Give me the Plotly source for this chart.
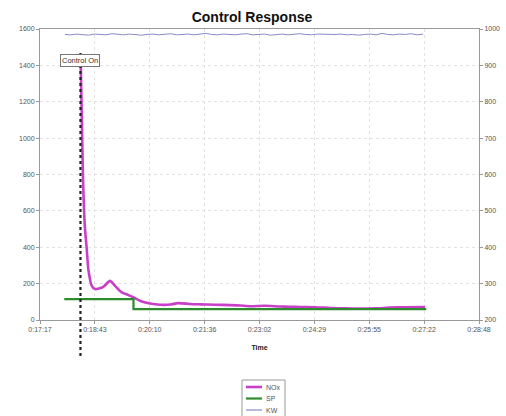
import numpy as np
import plotly.graph_objects as go

# Time in seconds from 0:00:00
nox_t = [1101, 1103, 1104.5, 1106, 1107.7, 1110.4, 1112.9, 1118.3, 1123.5, 1136, 1147, 1155,
         1165.5, 1176, 1184, 1194, 1210, 1226, 1242, 1254, 1273, 1289, 1312, 1336, 1352, 1368,
         1391, 1415, 1430, 1446, 1470, 1494, 1517, 1541, 1565, 1588, 1612, 1643]
nox_v = [1400, 1050, 780, 620, 500, 389, 280, 188, 170, 181, 215, 188,
         152, 137, 124, 106, 91, 84, 85, 93, 88, 86, 84, 82, 80, 76,
         78, 74, 73, 71, 70, 66, 64, 63, 64, 68, 70, 71]

sp_t = [1075, 1184, 1645]
sp_v = [115, 60, 60]

kw_v = [985, 984, 986, 985, 983, 986, 985, 984, 987, 985, 984, 986, 985, 983, 985, 986,
        984, 985, 987, 984, 985, 986, 984, 985, 988, 985, 984, 986, 985, 984, 986, 987,
        984, 985, 986, 983, 985, 986, 984, 985, 987, 985, 984, 986, 985, 984, 985, 986,
        984, 985, 983, 985, 986, 984, 988, 985, 984, 986, 985, 987, 984, 986]
kw_t = np.linspace(1076, 1640, len(kw_v))

tick_vals = [1036.8, 1123.2, 1209.6, 1296.0, 1382.4, 1468.8, 1555.2, 1641.6, 1728.0]
tick_text = ["0:17:17", "0:18:43", "0:20:10", "0:21:36", "0:23:02", "0:24:29", "0:25:55", "0:27:22", "0:28:48"]

series_names = ["NOx", "SP", "KW"]
series_colors = ["#c840c8", "#2e8b2e", "#8a8ac8"]
series_widths = [2.6, 2.2, 1]

control_on_t = 1100.5

FONT = "Arial, Liberation Sans, sans-serif"
W, H = 506, 416
L, R, T, B = 40, 27, 29, 96
PW, PH = W - L - R, H - T - B


def px2paper_x(px):
    return (px - L) / PW


def px2paper_y(py):
    return (H - B - py) / PH


fig = go.Figure()
fig.add_trace(go.Scatter(x=nox_t, y=nox_v, name=series_names[0], mode="lines",
                         line=dict(color=series_colors[0], width=series_widths[0],
                                   shape="spline", smoothing=0.6)))
fig.add_trace(go.Scatter(x=sp_t, y=sp_v, name=series_names[1], mode="lines",
                         line=dict(color=series_colors[1], width=series_widths[1], shape="hv")))
fig.add_trace(go.Scatter(x=kw_t, y=kw_v, name=series_names[2], mode="lines", yaxis="y2",
                         line=dict(color=series_colors[2], width=series_widths[2])))

fig.add_shape(type="line", xref="x", yref="paper", x0=control_on_t, x1=control_on_t,
              y0=px2paper_y(53), y1=px2paper_y(356), line=dict(color="#222222", width=2.2, dash="dot"))
fig.add_annotation(x=control_on_t, y=1425, xref="x", yref="y", text="Control On",
                   showarrow=False, font=dict(family=FONT, size=7.5, color="#333"),
                   bgcolor="white", bordercolor="#777", borderwidth=1, borderpad=1)

# legend drawn manually (compact spacing like the reference)
fig.add_shape(type="rect", xref="paper", yref="paper",
              x0=px2paper_x(242), x1=px2paper_x(285), y0=px2paper_y(380), y1=px2paper_y(422),
              line=dict(color="#999", width=1), fillcolor="white")
leg_y = [387, 398.5, 410]
for name, col, wd, py in zip(series_names, series_colors, series_widths, leg_y):
    fig.add_shape(type="line", xref="paper", yref="paper",
                  x0=px2paper_x(246), x1=px2paper_x(262), y0=px2paper_y(py), y1=px2paper_y(py),
                  line=dict(color=col, width=max(wd, 1.2)))
    fig.add_annotation(x=px2paper_x(264), y=px2paper_y(py), xref="paper", yref="paper",
                       text=name, showarrow=False, xanchor="left", yanchor="middle",
                       font=dict(family=FONT, size=7, color="#555"))

fig.update_layout(
    width=W, height=H,
    margin=dict(l=L, r=R, t=T, b=B, autoexpand=False),
    paper_bgcolor="white", plot_bgcolor="white",
    font=dict(family=FONT, size=7, color="#555"),
    title=dict(text="<b>Control Response</b>", x=252 / W, xanchor="center", y=1 - 17 / H, yanchor="middle",
               font=dict(family=FONT, size=14, color="#111")),
    xaxis=dict(range=[1036.8, 1728.0], tickvals=tick_vals, ticktext=tick_text,
               showgrid=True, gridcolor="#e2e2e2", griddash="dot", gridwidth=1,
               showline=True, linecolor="#999", mirror=True, linewidth=1,
               ticks="outside", ticklen=3, tickcolor="#999", zeroline=False,
               title=dict(text="<b>Time</b>", font=dict(family=FONT, size=7, color="#222"), standoff=12)),
    yaxis=dict(range=[0, 1600], dtick=200, showgrid=True, gridcolor="#e2e2e2", griddash="dot",
               showline=True, linecolor="#999", ticks="outside", ticklen=3, tickcolor="#999",
               zeroline=False),
    yaxis2=dict(range=[200, 1000], dtick=100, overlaying="y", side="right", showgrid=False,
                showline=True, linecolor="#999", ticks="outside", ticklen=3, tickcolor="#999",
                zeroline=False),
    showlegend=False,
)

fig.write_html("out.html", config={"displayModeBar": False},
               post_script="document.body.style.margin='0px';")
